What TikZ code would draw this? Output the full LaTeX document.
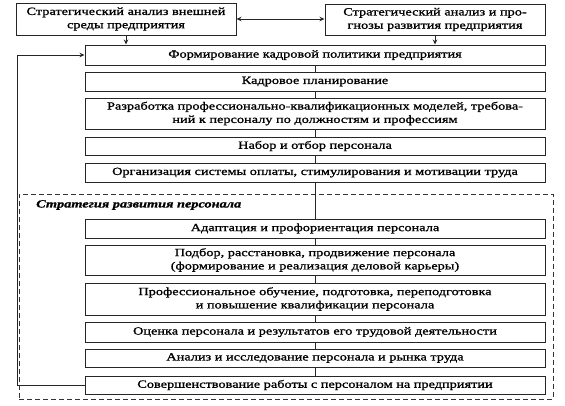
\documentclass[tikz,border=0pt]{standalone}
\usepackage{fontspec}
\setmainfont[FakeStretch=1.3,FakeBold=1.2]{Liberation Serif}
\usetikzlibrary{arrows.meta}
\tikzset{
  box/.style={draw=black!85, line width=1pt, fill=white, inner sep=1pt, align=center,
    font=\fontsize{11}{13.3}\selectfont, minimum width=460pt},
  topbox/.style={box, minimum width=220pt},
  link/.style={draw=black!85, line width=1pt},
  arr/.style={link, -{Stealth[length=5pt,width=4.5pt]}},
  arrboth/.style={link, {Stealth[length=5pt,width=4.5pt]}-{Stealth[length=5pt,width=4.5pt]}},
  dashframe/.style={draw=black!80, line width=1pt, dash pattern=on 5pt off 3pt, inner sep=0pt},
}
\begin{document}
\begin{tikzpicture}[x=1pt,y=-1pt]
\useasboundingbox (0,0) rectangle (565,405);
% dashed frame
\node[dashframe, minimum width=534pt, minimum height=205pt] (frm) at (286,296.5) {};
\node[anchor=west, inner sep=0pt, font=\fontsize{11}{13.3}\selectfont\bfseries\itshape] (lbl) at (36,205) {Стратегия развития персонала};
% top boxes
\node[topbox, minimum height=32pt] (tl) at (126,19) {Стратегический анализ внешней\\среды предприятия};
\node[topbox, minimum height=31pt] (tr) at (435,19.5) {Стратегический анализ и про-\\гнозы развития предприятия};
% main stack
\node[box, minimum height=20pt] (b1) at (315,55) {Формирование кадровой политики предприятия};
\node[box, minimum height=19pt] (b2) at (315,81.5) {Кадровое планирование};
\node[box, minimum height=31pt] (b3) at (315,113.5) {Разработка профессионально-квалификационных моделей, требова-\\ний к персоналу по должностям и профессиям};
\node[box, minimum height=18pt] (b4) at (315,146) {Набор и отбор персонала};
\node[box, minimum height=19pt] (b5) at (315,172.5) {Организация системы оплаты, стимулирования и мотивации труда};
\node[box, minimum height=19pt] (b6) at (315,228.5) {Адаптация и профориентация персонала};
\node[box, minimum height=30pt] (b7) at (315,260) {Подбор, расстановка, продвижение персонала\\(формирование и реализация деловой карьеры)};
\node[box, minimum height=32pt] (b8) at (315,299) {Профессиональное обучение, подготовка, переподготовка\\и повышение квалификации персонала};
\node[box, minimum height=20pt] (b9) at (315,332) {Оценка персонала и результатов его трудовой деятельности};
\node[box, minimum height=18pt] (b10) at (315,358) {Анализ и исследование персонала и рынка труда};
\node[box, minimum height=18pt] (b11) at (315,385) {Совершенствование работы с персоналом на предприятии};
% connectors
\draw[arrboth] (tl.east) -- (tl.east -| tr.west);
\draw[arr] (tl.south) -- (tl.south |- b1.north);
\draw[arr] (tr.south) -- (tr.south |- b1.north);
\draw[link] (b1.south) -- (b2.north);
\draw[link] (b2.south) -- (b3.north);
\draw[link] (b3.south) -- (b4.north);
\draw[link] (b4.south) -- (b5.north);
\draw[link] (b5.south) -- (b6.north);
\draw[link] (b6.south) -- (b7.north);
\draw[link] (b7.south) -- (b8.north);
\draw[link] (b8.south) -- (b9.north);
\draw[link] (b9.south) -- (b10.north);
\draw[link] (b10.south) -- (b11.north);
\coordinate (fb) at (17,385);
\draw[arr] (b11.west) -- (fb) |- (b1.west);
\end{tikzpicture}
\end{document}
